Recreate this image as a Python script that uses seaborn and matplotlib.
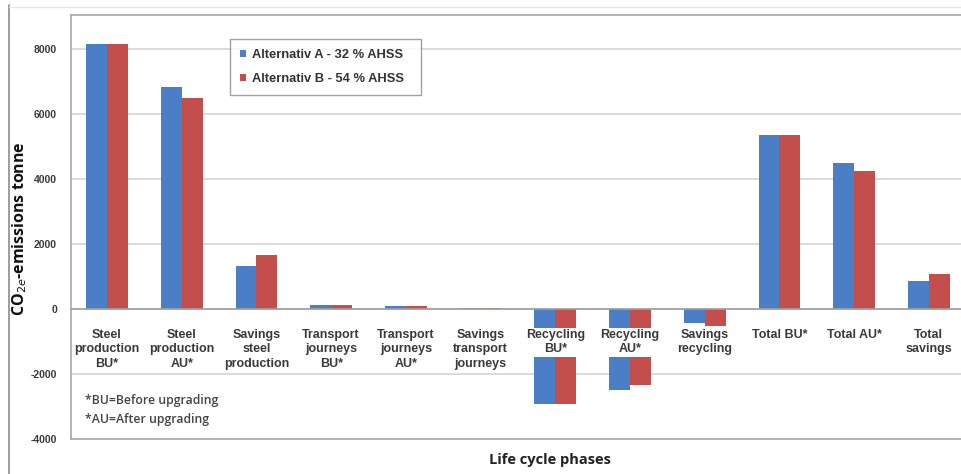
import pandas as pd
import matplotlib.pyplot as plt
import seaborn as sns

# Values
phases = [
    "Steel\nproduction\nBU*", "Steel\nproduction\nAU*", "Savings\nsteel\nproduction",
    "Transport\njourneys\nBU*", "Transport\njourneys\nAU*", "Savings\ntransport\njourneys",
    "Recycling\nBU*", "Recycling\nAU*", "Savings\nrecycling",
    "Total BU*", "Total AU*", "Total\nsavings",
]
alt_a = [8150, 6840, 1320, 130, 90, 20, -2930, -2490, -440, 5350, 4480, 860]
alt_b = [8150, 6510, 1650, 120, 80, 20, -2930, -2350, -520, 5350, 4260, 1080]
series_names = ["Alternativ A - 32 % AHSS", "Alternativ B - 54 % AHSS"]
yticks = [-4000, -2000, 0, 2000, 4000, 6000, 8000]
colors = ["#4A7EC7", "#C44E4C"]

df = pd.DataFrame({
    "phase": phases * 2,
    "value": alt_a + alt_b,
    "alt": [series_names[0]] * len(phases) + [series_names[1]] * len(phases),
})

sns.set_style("white")
plt.rcParams["font.family"] = ["Liberation Sans", "DejaVu Sans"]
open_sans = ["Open Sans", "DejaVu Sans"]

fig = plt.figure(figsize=(9.61, 4.74), dpi=100)
ax = fig.add_axes([71 / 961, 35 / 474, 890 / 961, 424 / 474])

sns.barplot(data=df, x="phase", y="value", hue="alt", palette=colors,
            width=0.56, saturation=1, linewidth=0, ax=ax, zorder=2)

ax.set_xlim(-0.482, 11.43)
ax.set_ylim(-4000, 9050)
ax.set_yticks(yticks)
ax.set_yticklabels([str(t) for t in yticks], fontsize=7.5, fontweight="bold", color="#3A3A3A")
ax.tick_params(axis="y", length=4, color="#A8A8A8", pad=6)
ax.set_xticks([])
ax.set_xlabel("")
ax.set_ylabel(r"CO$_{2e}$-emissions tonne", fontsize=11.5, fontweight="bold",
              family=open_sans, color="#111111")
ax.yaxis.set_label_coords(-0.047, 0.495)

for t in yticks:
    ax.axhline(t, color="#D4D4D4", lw=1.2, zorder=0)
ax.axhline(0, color="#A0A0A0", lw=1.2, zorder=3)

for s in ["left", "top", "bottom"]:
    ax.spines[s].set_color("#A8A8A8")
    ax.spines[s].set_linewidth(1.2)
ax.spines["right"].set_visible(False)

# Category labels sit inside the plot, below the zero line, on white boxes
for i, name in enumerate(phases):
    ax.text(i, -620, name, ha="center", va="top", fontsize=9, fontweight="bold",
            color="#3A3A3A", linespacing=1.25, zorder=4,
            bbox=dict(facecolor="white", edgecolor="none", pad=1.0))

leg = ax.legend(loc="upper left", bbox_to_anchor=(0.179, 0.943), frameon=True,
                fancybox=False, edgecolor="#8A8A8A", fontsize=9.3,
                handlelength=0.45, handleheight=0.45, handletextpad=0.45,
                labelspacing=0.95, borderpad=0.75, borderaxespad=0, title=None)
leg.get_frame().set_linewidth(1.0)
for txt in leg.get_texts():
    txt.set_fontweight("bold")
    txt.set_color("#333333")
    txt.set_text(txt.get_text() + "  ")

ax.text(0.016, 0.09, "*BU=Before upgrading", transform=ax.transAxes,
        fontsize=8.8, color="#444444", va="center", family=open_sans, fontweight="semibold")
ax.text(0.016, 0.047, "*AU=After upgrading", transform=ax.transAxes,
        fontsize=8.8, color="#444444", va="center", family=open_sans, fontweight="semibold")

fig.text(550 / 961, 14 / 474, "Life cycle phases", ha="center", va="center",
         fontsize=10.5, fontweight="bold", color="#222222", family=open_sans)

# outer frame of the original figure
fig.add_artist(plt.Line2D([9 / 961, 9 / 961], [0, 1 - 5 / 474], color="#8C8C8C", lw=1.2))
fig.add_artist(plt.Line2D([9 / 961, 1], [1 - 7 / 474, 1 - 7 / 474], color="#E6E6E6", lw=1.0))

fig.savefig("out.png", dpi=100)
plt.close(fig)
